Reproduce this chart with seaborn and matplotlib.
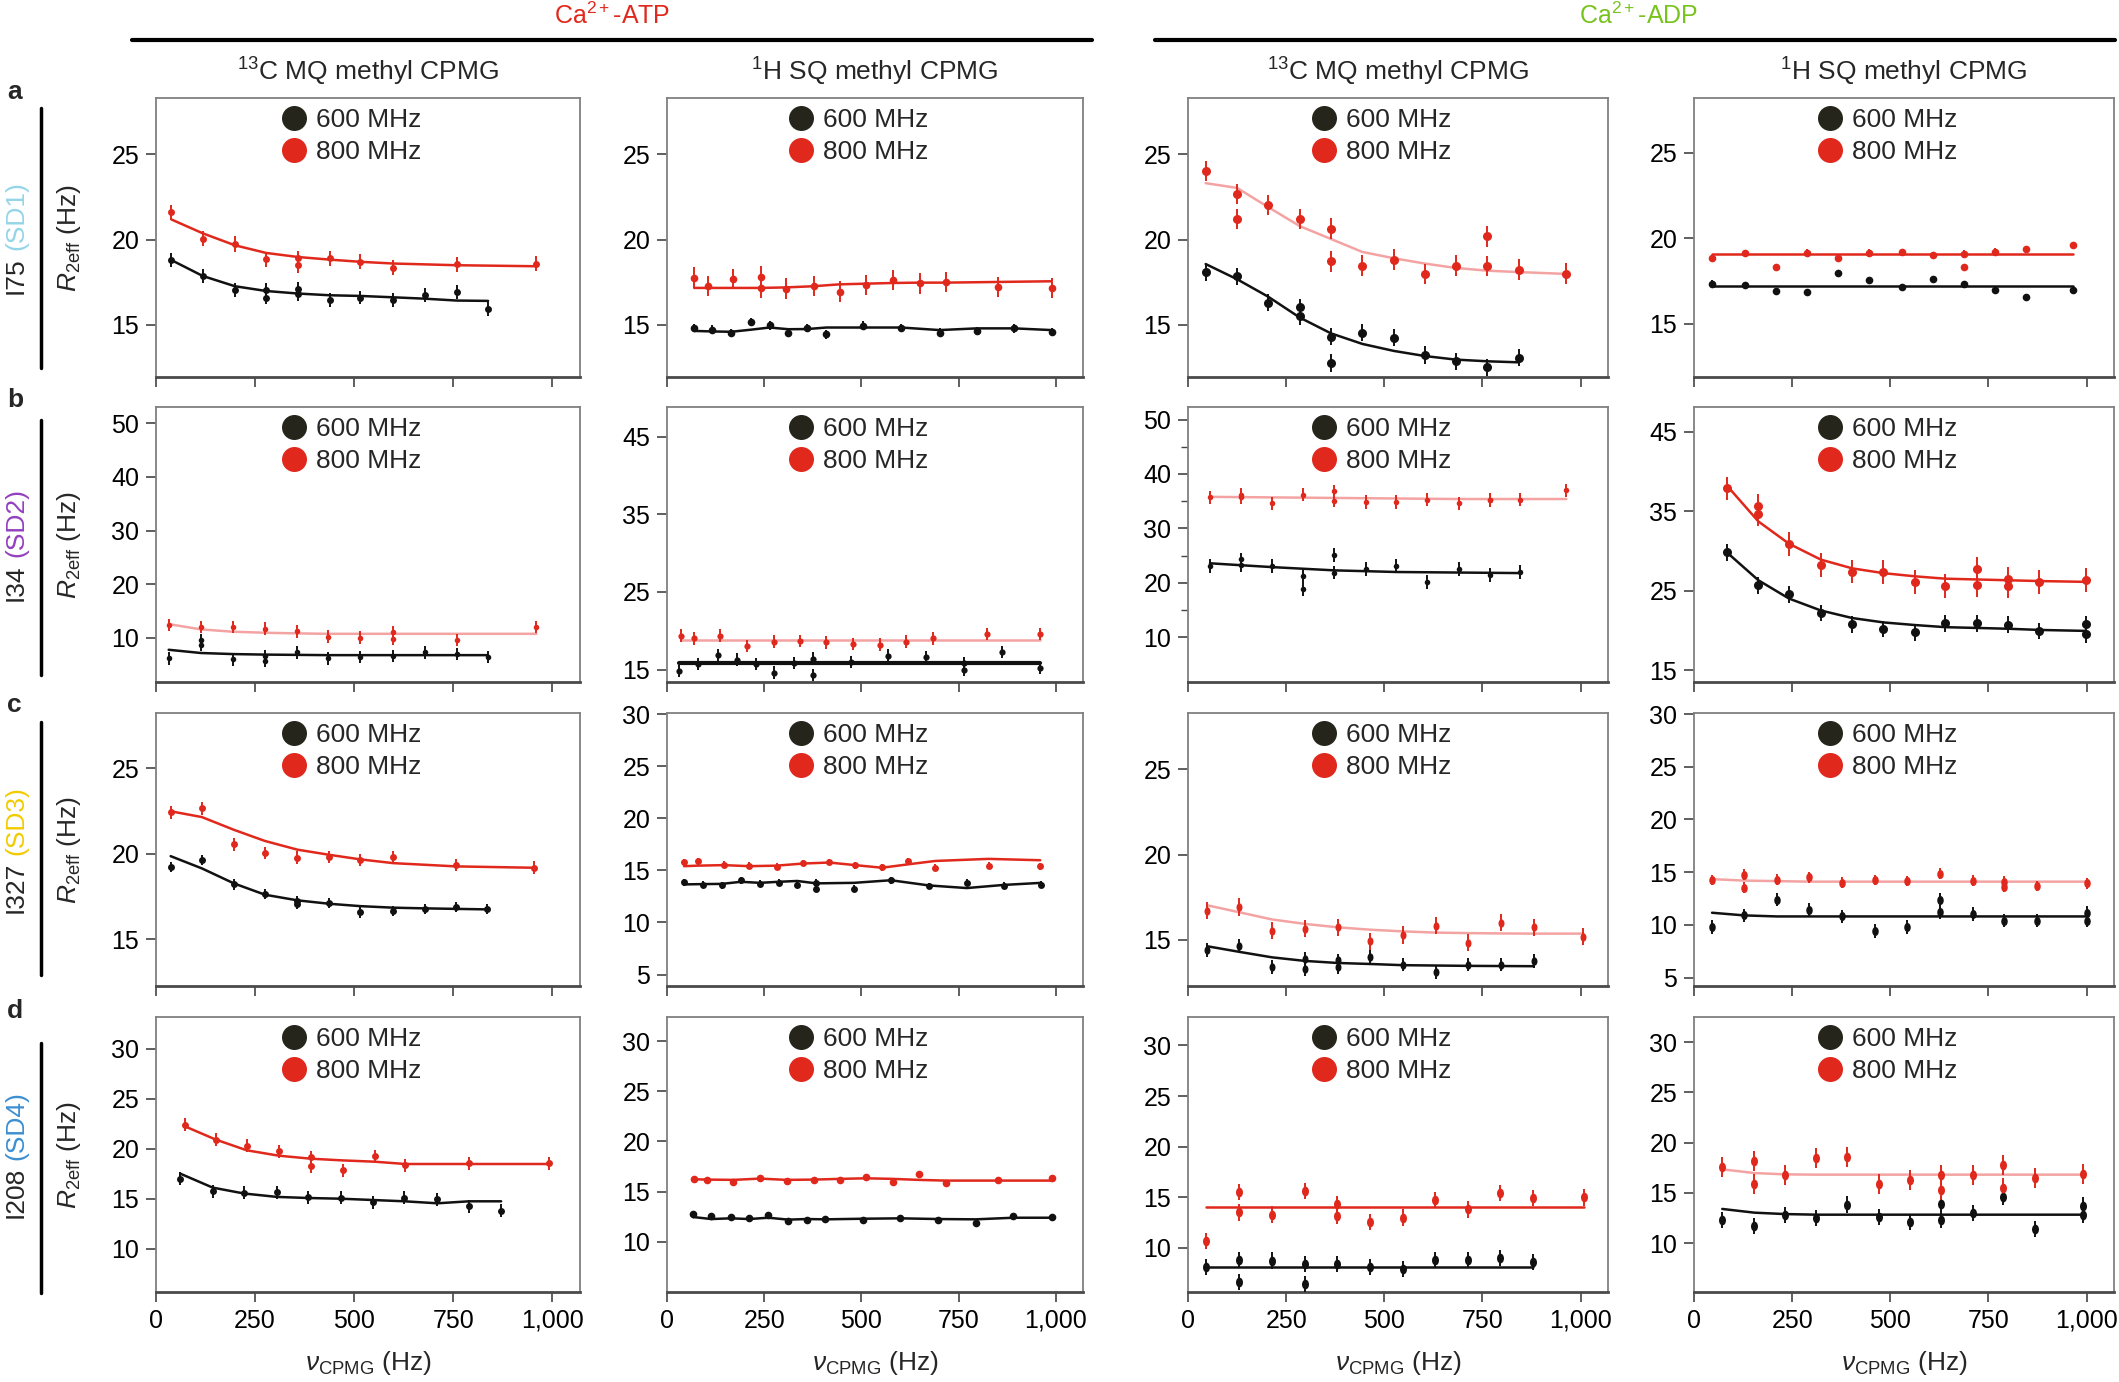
import matplotlib
matplotlib.use("Agg")
import matplotlib.pyplot as plt
import seaborn as sns
from matplotlib.lines import Line2D
from matplotlib.path import Path
from matplotlib.transforms import Affine2D
from matplotlib.ticker import FuncFormatter

sns.set_theme(style="ticks")
plt.rcParams["font.family"] = ["Liberation Sans", "DejaVu Sans"]
plt.rcParams["mathtext.fontset"] = "custom"
plt.rcParams["mathtext.rm"] = "Liberation Sans"
plt.rcParams["mathtext.it"] = "Liberation Sans:italic"
plt.rcParams["mathtext.bf"] = "Liberation Sans:bold"

# ---------------- data (nu_CPMG in Hz, R2eff in Hz) ----------------
# x6/y6: 600 MHz points, x8/y8: 800 MHz points, f6/f8: fit at the unique x values

# row a: I75 (SD1)
a1_x6 = [39, 118, 199, 278, 278, 359, 359, 438, 516, 599, 678, 759, 838]
a1_y6 = [18.8, 17.85, 17.05, 17.05, 16.6, 17.1, 16.8, 16.45, 16.6, 16.45, 16.75, 16.95, 15.95]
a1_f6 = [18.8, 17.87, 17.27, 16.99, 16.84, 16.74, 16.7, 16.62, 16.54, 16.43, 16.41]
a1_x8 = [39, 118, 199, 278, 359, 359, 438, 516, 599, 759, 960]
a1_y8 = [21.6, 20.05, 19.75, 18.85, 18.9, 18.5, 18.9, 18.7, 18.35, 18.55, 18.6]
a1_f8 = [21.18, 20.37, 19.67, 19.22, 18.98, 18.83, 18.7, 18.6, 18.5, 18.44]

a2_x6 = [70, 116, 165, 215, 264, 312, 361, 410, 505, 602, 701, 797, 893, 989]
a2_y6 = [14.82, 14.73, 14.53, 15.16, 14.98, 14.55, 14.82, 14.45, 14.96, 14.82, 14.55, 14.65, 14.8, 14.6]
a2_f6 = [14.65, 14.62, 14.6, 14.72, 14.85, 14.75, 14.76, 14.85, 14.85, 14.85, 14.7, 14.8, 14.8, 14.7]
a2_x8 = [70, 106, 171, 241, 241, 306, 377, 444, 512, 581, 650, 717, 852, 989]
a2_y8 = [17.77, 17.27, 17.68, 17.83, 17.17, 17.13, 17.27, 16.95, 17.34, 17.62, 17.44, 17.52, 17.21, 17.17]
a2_f8 = [17.17, 17.17, 17.17, 17.17, 17.2, 17.27, 17.38, 17.42, 17.46, 17.48, 17.48, 17.52, 17.56]

a3_x6 = [45, 125, 204, 285, 285, 364, 364, 444, 524, 603, 682, 763, 842]
a3_y6 = [18.09, 17.85, 16.29, 16.05, 15.51, 14.3, 12.77, 14.55, 14.24, 13.24, 12.87, 12.52, 13.07]
a3_f6 = [18.57, 17.68, 16.66, 15.43, 14.51, 13.89, 13.48, 13.18, 12.97, 12.87, 12.81]
a3_x8 = [45, 125, 125, 204, 285, 364, 364, 444, 524, 603, 682, 763, 763, 842, 963]
a3_y8 = [24.03, 22.66, 21.22, 22.04, 21.2, 20.64, 18.73, 18.48, 18.83, 17.99, 18.48, 20.19, 18.44, 18.24, 18.01]
a3_f8 = [23.31, 23.03, 21.91, 20.79, 20.04, 19.28, 18.91, 18.6, 18.34, 18.18, 18.1, 17.99]

a4_x6 = [47, 129, 208, 288, 368, 447, 529, 608, 688, 768, 847, 966]
a4_y6 = [17.36, 17.27, 16.9, 16.86, 17.97, 17.56, 17.13, 17.62, 17.32, 16.97, 16.56, 16.97]
a4_f6 = [17.23, 17.23, 17.23, 17.23, 17.23, 17.23, 17.23, 17.23, 17.23, 17.23, 17.23, 17.23]
a4_x8 = [47, 129, 208, 288, 368, 447, 529, 608, 688, 688, 768, 847, 966]
a4_y8 = [18.85, 19.12, 18.3, 19.16, 18.87, 19.16, 19.18, 19.0, 19.1, 18.32, 19.22, 19.36, 19.59]
a4_f8 = [19.06, 19.06, 19.06, 19.06, 19.06, 19.06, 19.06, 19.06, 19.06, 19.06, 19.06, 19.06]

# row b: I34 (SD2)
b1_x6 = [32, 113, 113, 194, 275, 275, 356, 435, 516, 597, 678, 759, 838]
b1_y6 = [6.2, 9.6, 8.7, 6.0, 6.65, 5.7, 7.3, 6.2, 6.5, 6.6, 7.3, 7.0, 6.4]
b1_f6 = [7.8, 7.2, 7.0, 6.9, 6.85, 6.8, 6.8, 6.8, 6.8, 6.8, 6.8]
b1_x8 = [32, 113, 194, 275, 356, 435, 516, 597, 597, 759, 960]
b1_y8 = [12.45, 12.0, 12.06, 11.74, 11.23, 10.26, 10.06, 11.03, 9.8, 9.6, 12.0]
b1_f8 = [12.58, 11.6, 11.16, 10.97, 10.85, 10.77, 10.77, 10.77, 10.77, 10.77]

b2_x6 = [32, 81, 130, 180, 229, 276, 326, 375, 375, 472, 569, 665, 764, 764, 861, 960]
b2_y6 = [14.83, 15.74, 16.83, 16.27, 15.7, 14.6, 15.87, 16.4, 14.3, 16.0, 16.8, 16.57, 15.83, 14.96, 17.23, 15.22]
b2_f6 = [15.87, 15.87, 15.87, 15.87, 15.87, 15.87, 15.87, 15.87, 15.87, 15.87, 15.87, 15.87, 15.87, 15.87]
b2_x8 = [35, 69, 137, 206, 275, 343, 410, 479, 548, 616, 685, 822, 960]
b2_y8 = [19.37, 19.0, 19.37, 18.06, 18.6, 18.7, 18.5, 18.3, 18.2, 18.6, 19.0, 19.6, 19.6]
b2_f8 = [18.8, 18.8, 18.8, 18.8, 18.8, 18.8, 18.8, 18.8, 18.8, 18.8, 18.8, 18.8, 18.8]

b3_x6 = [56, 134, 134, 214, 293, 293, 373, 373, 453, 531, 610, 690, 769, 847]
b3_y6 = [23.1, 24.3, 23.3, 23.1, 21.3, 18.8, 25.1, 21.9, 22.5, 23.1, 20.2, 22.5, 21.4, 22.0]
b3_f6 = [23.6, 23.25, 22.9, 22.6, 22.3, 22.15, 22.0, 21.95, 21.9, 21.85, 21.8]
b3_x8 = [56, 134, 134, 214, 293, 373, 373, 453, 531, 610, 690, 769, 769, 847, 964]
b3_y8 = [35.7, 36.2, 35.7, 34.6, 36.2, 36.8, 35.1, 34.9, 34.8, 35.3, 34.6, 35.3, 35.2, 35.3, 37.0]
b3_f8 = [35.8, 35.75, 35.7, 35.65, 35.6, 35.55, 35.5, 35.45, 35.4, 35.4, 35.4, 35.4]

b4_x6 = [84, 164, 242, 323, 403, 482, 562, 640, 721, 801, 880, 998, 998]
b4_y6 = [29.8, 25.65, 24.52, 22.2, 20.76, 20.15, 19.76, 20.9, 20.9, 20.7, 19.93, 20.76, 19.5]
b4_f6 = [29.8, 26.3, 24.0, 22.5, 21.55, 21.0, 20.67, 20.4, 20.3, 20.2, 20.05, 19.93]
b4_x8 = [84, 164, 164, 242, 323, 403, 482, 562, 640, 721, 721, 801, 801, 880, 998]
b4_y8 = [37.85, 35.7, 34.6, 30.9, 28.2, 27.4, 27.3, 26.1, 25.6, 27.7, 25.65, 26.5, 25.6, 26.1, 26.3]
b4_f8 = [38.2, 33.7, 30.9, 28.9, 27.8, 27.2, 26.8, 26.5, 26.4, 26.3, 26.2, 26.1]

# row c: I327 (SD3)
c1_x6 = [37, 116, 197, 275, 357, 357, 437, 516, 599, 678, 757, 836]
c1_y6 = [19.24, 19.65, 18.2, 17.64, 17.25, 17.05, 17.1, 16.56, 16.66, 16.78, 16.9, 16.76]
c1_f6 = [19.86, 19.14, 18.26, 17.6, 17.27, 17.07, 16.93, 16.84, 16.8, 16.77, 16.74]
c1_x8 = [37, 116, 197, 275, 357, 437, 516, 599, 757, 954]
c1_y8 = [22.43, 22.66, 20.56, 20.04, 19.77, 19.82, 19.63, 19.8, 19.34, 19.18]
c1_f8 = [22.49, 22.15, 21.4, 20.75, 20.24, 19.94, 19.67, 19.45, 19.26, 19.18]

c2_x6 = [44, 92, 141, 190, 239, 287, 335, 384, 384, 481, 576, 674, 771, 866, 963]
c2_y6 = [13.85, 13.6, 13.55, 14.05, 13.7, 13.8, 13.6, 13.8, 13.25, 13.25, 14.05, 13.5, 13.8, 13.52, 13.62]
c2_f6 = [13.65, 13.68, 13.7, 13.9, 13.8, 13.9, 13.98, 13.75, 13.8, 14.05, 13.55, 13.3, 13.6, 13.8]
c2_x8 = [44, 79, 146, 211, 282, 349, 417, 484, 553, 621, 690, 827, 960]
c2_y8 = [15.8, 15.85, 15.55, 15.45, 15.35, 15.7, 15.8, 15.5, 15.3, 15.85, 15.25, 15.45, 15.4]
c2_f8 = [15.4, 15.45, 15.5, 15.4, 15.45, 15.65, 15.75, 15.5, 15.25, 15.58, 15.9, 16.1, 15.97]

c3_x6 = [49, 131, 214, 298, 298, 381, 381, 464, 548, 631, 714, 798, 881]
c3_y6 = [14.4, 14.67, 13.4, 13.9, 13.28, 13.8, 13.4, 14.0, 13.55, 13.1, 13.55, 13.55, 13.75]
c3_f6 = [14.63, 14.3, 13.98, 13.77, 13.65, 13.59, 13.52, 13.5, 13.48, 13.47, 13.46]
c3_x8 = [49, 131, 214, 298, 381, 464, 548, 631, 714, 798, 881, 1007]
c3_y8 = [16.72, 16.93, 15.53, 15.66, 15.74, 14.92, 15.29, 15.84, 14.84, 16.0, 15.74, 15.18]
c3_f8 = [17.03, 16.62, 16.2, 15.94, 15.74, 15.6, 15.5, 15.43, 15.4, 15.38, 15.37, 15.37]

c4_x6 = [46, 127, 211, 294, 377, 460, 543, 626, 626, 710, 791, 874, 1002, 1002]
c4_y6 = [9.8, 10.9, 12.4, 11.45, 10.8, 9.4, 9.8, 12.4, 11.2, 11.05, 10.4, 10.4, 11.15, 10.4]
c4_f6 = [11.15, 10.9, 10.8, 10.8, 10.8, 10.8, 10.8, 10.8, 10.8, 10.8, 10.8, 10.8]
c4_x8 = [46, 127, 127, 211, 294, 377, 460, 543, 626, 710, 791, 791, 874, 1002]
c4_y8 = [14.24, 14.77, 13.52, 14.28, 14.5, 14.0, 14.25, 14.15, 14.87, 14.2, 14.1, 13.62, 13.7, 13.95]
c4_f8 = [14.34, 14.2, 14.15, 14.1, 14.1, 14.1, 14.1, 14.1, 14.1, 14.1, 14.1, 14.1]

# row d: I208 (SD4)
d1_x6 = [61, 143, 222, 305, 384, 466, 547, 627, 710, 790, 871]
d1_y6 = [17.04, 15.8, 15.65, 15.7, 15.2, 15.15, 14.7, 15.13, 15.0, 14.27, 13.85]
d1_f6 = [17.54, 16.14, 15.55, 15.21, 15.1, 15.03, 14.9, 14.77, 14.57, 14.77, 14.77]
d1_x8 = [72, 151, 229, 310, 391, 391, 471, 552, 629, 790, 991]
d1_y8 = [22.45, 20.94, 20.34, 19.8, 19.2, 18.3, 17.9, 19.26, 18.4, 18.6, 18.58]
d1_f8 = [22.28, 20.94, 19.87, 19.33, 19.03, 18.86, 18.73, 18.5, 18.5, 18.5]

d2_x6 = [67, 114, 164, 211, 261, 312, 359, 407, 504, 600, 697, 794, 891, 989]
d2_y6 = [12.73, 12.53, 12.47, 12.37, 12.63, 12.1, 12.2, 12.27, 12.2, 12.4, 12.14, 11.88, 12.6, 12.47]
d2_f6 = [12.47, 12.27, 12.34, 12.27, 12.4, 12.21, 12.27, 12.24, 12.3, 12.34, 12.27, 12.24, 12.4, 12.4]
d2_x8 = [70, 104, 171, 239, 308, 377, 444, 512, 581, 648, 717, 852, 989]
d2_y8 = [16.27, 16.14, 16.0, 16.33, 16.07, 16.14, 16.17, 16.43, 16.0, 16.8, 15.84, 16.14, 16.33]
d2_f8 = [16.23, 16.2, 16.17, 16.3, 16.17, 16.2, 16.27, 16.33, 16.27, 16.17, 16.1, 16.1, 16.1]

d3_x6 = [46, 129, 129, 213, 297, 297, 379, 463, 547, 630, 714, 796, 880]
d3_y6 = [8.1, 8.8, 6.6, 8.75, 8.4, 6.4, 8.45, 8.1, 7.95, 8.8, 8.8, 9.0, 8.6]
d3_f6 = [8.1, 8.1, 8.1, 8.1, 8.1, 8.1, 8.1, 8.1, 8.1, 8.1, 8.1]
d3_x8 = [46, 129, 129, 213, 297, 379, 379, 463, 547, 630, 714, 796, 880, 1010]
d3_y8 = [10.7, 15.5, 13.5, 13.3, 15.6, 14.3, 13.2, 12.6, 13.0, 14.7, 13.8, 15.45, 14.95, 14.98]
d3_f8 = [14.05, 14.05, 14.05, 14.05, 14.05, 14.05, 14.05, 14.05, 14.05, 14.05, 14.05, 14.05]

d4_x6 = [72, 154, 232, 312, 391, 471, 551, 630, 630, 710, 788, 869, 990, 990]
d4_y6 = [12.34, 11.74, 12.78, 12.5, 13.85, 12.58, 12.1, 13.94, 12.28, 12.98, 14.58, 11.4, 13.75, 12.85]
d4_f6 = [13.41, 13.04, 12.9, 12.84, 12.84, 12.84, 12.84, 12.84, 12.84, 12.84, 12.84, 12.84]
d4_x8 = [72, 154, 154, 232, 312, 391, 471, 551, 630, 630, 710, 788, 788, 869, 990]
d4_y8 = [17.62, 18.2, 15.9, 16.75, 18.5, 18.6, 15.87, 16.27, 16.77, 15.26, 16.77, 17.75, 15.5, 16.5, 16.85]
d4_f8 = [17.35, 16.98, 16.85, 16.82, 16.82, 16.82, 16.82, 16.82, 16.82, 16.82, 16.82, 16.82]

row_names = ["I75", "I34", "I327", "I208"]
row_tags = ["(SD1)", "(SD2)", "(SD3)", "(SD4)"]
row_letters = ["a", "b", "c", "d"]
col_titles = [r"$^{13}$C MQ methyl CPMG", r"$^{1}$H SQ methyl CPMG",
              r"$^{13}$C MQ methyl CPMG", r"$^{1}$H SQ methyl CPMG"]
x_ticks = [0, 250, 500, 750, 1000]

PANELS = {
    "a1": (a1_x6, a1_y6, a1_f6, a1_x8, a1_y8, a1_f8),
    "a2": (a2_x6, a2_y6, a2_f6, a2_x8, a2_y8, a2_f8),
    "a3": (a3_x6, a3_y6, a3_f6, a3_x8, a3_y8, a3_f8),
    "a4": (a4_x6, a4_y6, a4_f6, a4_x8, a4_y8, a4_f8),
    "b1": (b1_x6, b1_y6, b1_f6, b1_x8, b1_y8, b1_f8),
    "b2": (b2_x6, b2_y6, b2_f6, b2_x8, b2_y8, b2_f8),
    "b3": (b3_x6, b3_y6, b3_f6, b3_x8, b3_y8, b3_f8),
    "b4": (b4_x6, b4_y6, b4_f6, b4_x8, b4_y8, b4_f8),
    "c1": (c1_x6, c1_y6, c1_f6, c1_x8, c1_y8, c1_f8),
    "c2": (c2_x6, c2_y6, c2_f6, c2_x8, c2_y8, c2_f8),
    "c3": (c3_x6, c3_y6, c3_f6, c3_x8, c3_y8, c3_f8),
    "c4": (c4_x6, c4_y6, c4_f6, c4_x8, c4_y8, c4_f8),
    "d1": (d1_x6, d1_y6, d1_f6, d1_x8, d1_y8, d1_f8),
    "d2": (d2_x6, d2_y6, d2_f6, d2_x8, d2_y8, d2_f8),
    "d3": (d3_x6, d3_y6, d3_f6, d3_x8, d3_y8, d3_f8),
    "d4": (d4_x6, d4_y6, d4_f6, d4_x8, d4_y8, d4_f8),
}

# ---------------- styling / layout ----------------
RED = "#e0281c"
PINK = "#f4a3a3"
BLACK = "#111111"
LEG_BLACK = "#25251b"
GREEN = "#78c31e"
TAG_COLORS = ["#95d5e8", "#9440c0", "#f2cc00", "#3d8fd1"]

W, H = 2119, 1382
COL_X = [(156, 580), (667, 1083), (1188, 1608), (1694, 2114)]
ROW_Y = [(98, 377), (407, 682), (713, 986), (1017, 1292)]

# ylim, yticks, marker size (pt), err600, err800, fit800 colour, ellipse marker
STYLE = {
    "a1": ((11.95, 28.3), [15, 20, 25], 5.0, 0.4, 0.45, RED, False),
    "a2": ((11.95, 28.3), [15, 20, 25], 5.5, 0.25, 0.6, RED, False),
    "a3": ((11.95, 28.3), [15, 20, 25], 6.5, 0.5, 0.6, PINK, False),
    "a4": ((11.9, 28.2), [15, 20, 25], 5.5, 0.2, 0.2, RED, False),
    "b1": ((1.8, 53.0), [10, 20, 30, 40, 50], 4.0, 1.15, 1.15, PINK, False),
    "b2": ((13.4, 48.8), [15, 25, 35, 45], 4.5, 0.8, 0.8, PINK, False),
    "b3": ((1.8, 52.3), [10, 20, 30, 40, 50], 4.0, 1.25, 1.25, PINK, False),
    "b4": ((13.5, 48.1), [15, 25, 35, 45], 6.5, 1.05, 1.5, RED, False),
    "c1": ((12.25, 28.25), [15, 20, 25], 5.0, 0.3, 0.37, RED, False),
    "c2": ((3.9, 30.1), [5, 10, 15, 20, 25, 30], 5.0, 0.33, 0.33, RED, False),
    "c3": ((12.3, 28.3), [15, 20, 25], 6.0, 0.4, 0.5, PINK, True),
    "c4": ((4.2, 30.1), [5, 10, 15, 20, 25, 30], 6.5, 0.65, 0.5, PINK, True),
    "d1": ((5.7, 33.2), [10, 15, 20, 25, 30], 5.0, 0.65, 0.65, RED, False),
    "d2": ((5.0, 32.4), [10, 15, 20, 25, 30], 5.5, 0.27, 0.27, RED, False),
    "d3": ((5.65, 32.8), [10, 15, 20, 25, 30], 7.0, 0.8, 0.8, RED, True),
    "d4": ((5.15, 32.5), [10, 15, 20, 25, 30], 7.0, 0.8, 1.0, PINK, True),
}

ELLIPSE = Path.unit_circle().transformed(Affine2D().scale(0.72, 1.0))

fig = plt.figure(figsize=(W / 100, H / 100), dpi=100)


def add_axes(row, col):
    x0, x1 = COL_X[col]
    y0, y1 = ROW_Y[row]
    return fig.add_axes([x0 / W, 1 - y1 / H, (x1 - x0) / W, (y1 - y0) / H])


def draw_series(ax, x, y, fit, err, pt_color, fit_color, ms, marker, fit_lw):
    fx = sorted(set(x))
    sns.lineplot(x=fx, y=fit, ax=ax, color=fit_color, lw=fit_lw,
                 estimator=None, sort=False, legend=False, zorder=2)
    ax.errorbar(x, y, yerr=err, fmt="none", ecolor=pt_color,
                elinewidth=1.4, capsize=0, zorder=3)
    sns.scatterplot(x=x, y=y, ax=ax, color=pt_color, marker=marker,
                    s=ms ** 2, linewidth=0, legend=False, zorder=4)


for r, letter in enumerate(row_letters):
    for c in range(4):
        key = f"{letter}{c + 1}"
        x6, y6, f6, x8, y8, f8 = PANELS[key]
        ylim, yticks, ms, e6, e8, fit8_color, ell = STYLE[key]
        marker = ELLIPSE if ell else "o"
        ax = add_axes(r, c)

        lw6 = 3.0 if key == "b2" else 1.8
        draw_series(ax, x6, y6, f6, e6, BLACK, BLACK, ms, marker, lw6)
        draw_series(ax, x8, y8, f8, e8, RED, fit8_color, ms, marker, 1.8)

        ax.set_xlim(0, 1070)
        ax.set_ylim(*ylim)
        ax.set_xticks(x_ticks)
        ax.set_yticks(yticks)
        if key == "b3":
            ax.set_yticks([15, 25, 35, 45], minor=True)
            ax.tick_params(axis="y", which="minor", direction="out",
                           length=5, width=1.0, color="#444444")
        ax.xaxis.set_major_formatter(FuncFormatter(lambda v, _: f"{int(v):,}"))
        ax.tick_params(axis="both", which="major", direction="out", length=7,
                       width=1.2, color="#444444", labelsize=18, pad=5,
                       labelcolor="black")
        if r < 3:
            ax.tick_params(axis="x", labelbottom=False)
        else:
            ax.set_xlabel(r"$\nu_{\mathrm{CPMG}}$ (Hz)", fontsize=19, labelpad=12)
        ax.set_ylabel("")

        for side in ["top", "right", "left"]:
            ax.spines[side].set_color("#808080")
            ax.spines[side].set_linewidth(1.3)
        ax.spines["bottom"].set_color("#4a4a4a")
        ax.spines["bottom"].set_linewidth(2.0)

        handles = [
            Line2D([], [], ls="", marker="o", markersize=18,
                   markerfacecolor=LEG_BLACK, markeredgewidth=0, label="600 MHz"),
            Line2D([], [], ls="", marker="o", markersize=18,
                   markerfacecolor=RED, markeredgewidth=0, label="800 MHz"),
        ]
        ax.legend(handles=handles, loc="upper center", bbox_to_anchor=(0.46, 0.982),
                  frameon=False, fontsize=19, handletextpad=0.35,
                  labelspacing=0.3, borderaxespad=0.0, borderpad=0.2,
                  handlelength=1.0)

        if r == 0:
            cx = (COL_X[c][0] + COL_X[c][1]) / 2
            fig.text(cx / W, 1 - 72 / H, col_titles[c], ha="center", va="center",
                     fontsize=19)

# ---------------- figure annotations ----------------
fig.text(612 / W, 1 - 16 / H, r"Ca$^{2+}$-ATP", color=RED, ha="center",
         va="center", fontsize=18)
fig.text(1639 / W, 1 - 16 / H, r"Ca$^{2+}$-ADP", color=GREEN, ha="center",
         va="center", fontsize=18)
fig.add_artist(Line2D([132 / W, 1092 / W], [1 - 40 / H, 1 - 40 / H],
                      transform=fig.transFigure, color="black", lw=3))
fig.add_artist(Line2D([1155 / W, 2115 / W], [1 - 40 / H, 1 - 40 / H],
                      transform=fig.transFigure, color="black", lw=3))

renderer = fig.canvas.get_renderer()
row_line_y = [(108, 368), (420, 675), (722, 975), (1043, 1293)]
letter_y = [92, 400, 705, 1011]
for r in range(4):
    y0, y1 = ROW_Y[r]
    yc = (y0 + y1) / 2
    # panel letter
    fig.text(7 / W, 1 - letter_y[r] / H, row_letters[r], fontsize=19,
             fontweight="bold", ha="left", va="center")
    # vertical rule
    ly0, ly1 = row_line_y[r]
    fig.add_artist(Line2D([41 / W, 41 / W], [1 - ly0 / H, 1 - ly1 / H],
                          transform=fig.transFigure, color="black", lw=2.5))
    # y label
    fig.text(69 / W, 1 - yc / H, r"$R_{\mathrm{2eff}}$ (Hz)", rotation=90,
             ha="center", va="center", fontsize=19)
    # two-coloured row label
    t1 = fig.text(16 / W, 0.5, row_names[r], rotation=90, fontsize=19,
                  ha="center", va="bottom")
    t2 = fig.text(16 / W, 0.5, row_tags[r], rotation=90, fontsize=19,
                  ha="center", va="bottom", color=TAG_COLORS[r])
    h1 = t1.get_window_extent(renderer).height
    h2 = t2.get_window_extent(renderer).height
    gap = 7
    yb = (H - yc) - (h1 + gap + h2) / 2
    t1.set_y(yb / H)
    t2.set_y((yb + h1 + gap) / H)

fig.savefig("out.png", dpi=100)
